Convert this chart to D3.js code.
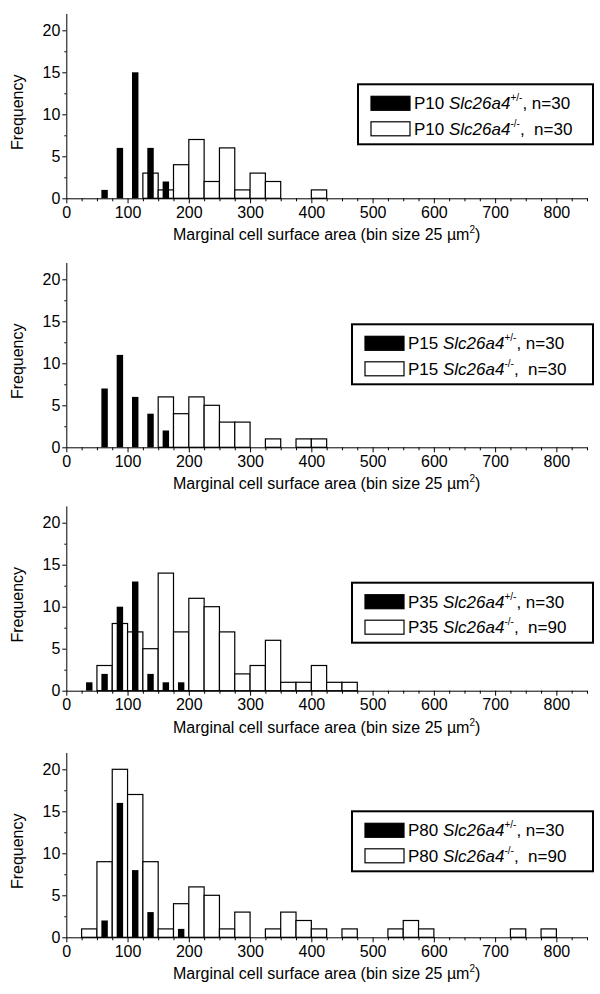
<!DOCTYPE html>
<html>
<head>
<meta charset="utf-8">
<script src="https://cdn.jsdelivr.net/npm/d3@7"></script>
<style>
  body { margin: 0; background: #fff; }
  svg { display: block; font-family: "Liberation Sans", Arial, sans-serif; }
  .axis text { font-size: 16px; fill: #000; font-family: "Liberation Sans", Arial, sans-serif; }
  .axis path, .axis line { stroke: #000; stroke-width: 1; }
</style>
</head>
<body>
<svg id="chart" width="600" height="994"></svg>
<script>
// [bin lower edge, count], bin size 25
const p10Het = [[50,1],[75,6],[100,15],[125,6],[150,2]];
const p10Ko  = [[125,3],[150,1],[175,4],[200,7],[225,2],[250,6],[275,1],[300,3],[325,2],[400,1]];
const p15Het = [[50,7],[75,11],[100,6],[125,4],[150,2]];
const p15Ko  = [[150,6],[175,4],[200,6],[225,5],[250,3],[275,3],[325,1],[375,1],[400,1]];
const p35Het = [[25,1],[50,2],[75,10],[100,13],[125,2],[150,1],[175,1]];
const p35Ko  = [[50,3],[75,8],[100,7],[125,5],[150,14],[175,7],[200,11],[225,10],[250,7],[275,2],
                [300,3],[325,6],[350,1],[375,1],[400,3],[425,1],[450,1]];
const p80Het = [[50,2],[75,16],[100,8],[125,3],[175,1]];
const p80Ko  = [[25,1],[50,9],[75,20],[100,17],[125,9],[150,1],[175,4],[200,6],[225,5],[250,1],
                [275,3],[325,1],[350,3],[375,2],[400,1],[450,1],[525,1],[550,2],[575,1],[725,1],[775,1]];

const stages = ["P10", "P15", "P35", "P80"];
const nHet = [30, 30, 30, 30];
const nKo = [30, 30, 90, 90];
const hetSeries = [p10Het, p15Het, p35Het, p80Het];
const koSeries = [p10Ko, p15Ko, p35Ko, p80Ko];

const xTicks = [0, 100, 200, 300, 400, 500, 600, 700, 800];
const yTicks = [0, 5, 10, 15, 20];
const binSize = 25;

// layout
const baselines = [198.3, 447.3, 690.7, 937.3];
const legendX = [358, 352, 352, 352];
const legendTop = [-114, -123, -108, -126];
const plotH = 184.8;

const svg = d3.select("#chart");
const x = d3.scaleLinear().domain([0, 850]).range([66.3, 587]);

stages.forEach((stage, i) => {
    const y0 = baselines[i];
    const y = d3.scaleLinear().domain([0, 22]).range([y0, y0 - plotH]);
    const g = svg.append("g");

    // open bars (-/-)
    g.selectAll(".ko").data(koSeries[i]).join("rect")
        .attr("x", d => x(d[0]))
        .attr("width", x(binSize) - x(0))
        .attr("y", d => y(d[1]))
        .attr("height", d => y(0) - y(d[1]))
        .attr("fill", "#fff")
        .attr("stroke", "#000")
        .attr("stroke-width", 1.2);

    // filled bars (+/-), narrower, centred in bin
    const bw = 10.5;
    g.selectAll(".het").data(hetSeries[i]).join("rect")
        .attr("x", d => x(d[0] + binSize / 2 - bw / 2))
        .attr("width", x(bw) - x(0))
        .attr("y", d => y(d[1]))
        .attr("height", d => y(0) - y(d[1]))
        .attr("fill", "#000");

    // axes
    const minorX = d3.range(0, 851, 25).filter(v => v % 100 !== 0);
    g.append("g").attr("class", "axis")
        .attr("transform", `translate(0,${y0})`)
        .call(d3.axisBottom(x).tickValues(minorX).tickSize(3).tickFormat(""))
        .select(".domain").remove();
    g.append("g").attr("class", "axis")
        .attr("transform", `translate(0,${y0})`)
        .call(d3.axisBottom(x).tickValues(xTicks).tickSize(5).tickSizeOuter(0).tickPadding(3));

    g.append("g").attr("class", "axis")
        .attr("transform", `translate(${x(0)},0)`)
        .call(d3.axisLeft(y).tickValues([2.5, 7.5, 12.5, 17.5]).tickSize(2).tickFormat(""))
        .select(".domain").remove();
    g.append("g").attr("class", "axis")
        .attr("transform", `translate(${x(0)},0)`)
        .call(d3.axisLeft(y).tickValues(yTicks).tickSize(4).tickSizeOuter(0).tickPadding(2));

    // axis titles
    const xt = g.append("text")
        .attr("x", (x(0) + x(850)) / 2)
        .attr("y", y0 + 42)
        .attr("text-anchor", "middle")
        .attr("font-size", 16);
    xt.append("tspan").text("Marginal cell surface area (bin size 25 \u00b5m");
    xt.append("tspan").attr("font-size", 10).attr("dy", -7).text("2");
    xt.append("tspan").attr("dy", 7).text(")");

    g.append("text")
        .attr("transform", `translate(23,${y0 - 86}) rotate(-90)`)
        .attr("text-anchor", "middle")
        .attr("font-size", 16)
        .text("Frequency");

    // legend
    const lx = legendX[i], ly = y0 + legendTop[i];
    const lg = g.append("g").attr("transform", `translate(${lx},${ly})`);
    lg.append("rect")
        .attr("width", 593 - lx).attr("height", 60)
        .attr("fill", "#fff").attr("stroke", "#000").attr("stroke-width", 2);

    const rows = [
        { fill: "#000", sup: "+/-", n: nHet[i], gap: " " },
        { fill: "#fff", sup: "-/-", n: nKo[i], gap: "\u00a0 " }
    ];
    rows.forEach((r, k) => {
        const ry = 12 + k * 25.5;
        lg.append("rect")
            .attr("x", 13).attr("y", ry)
            .attr("width", 39).attr("height", 14)
            .attr("fill", r.fill).attr("stroke", "#000").attr("stroke-width", 1.2);
        const t = lg.append("text")
            .attr("x", 56).attr("y", ry + 13)
            .attr("font-size", 17);
        t.append("tspan").text(stage + " ");
        t.append("tspan").attr("font-style", "italic").text("Slc26a4");
        t.append("tspan").attr("font-size", 10).attr("dy", -8).text(r.sup);
        t.append("tspan").attr("dy", 8).text("," + r.gap + "n=" + r.n);
    });
});
</script>
</body>
</html>
